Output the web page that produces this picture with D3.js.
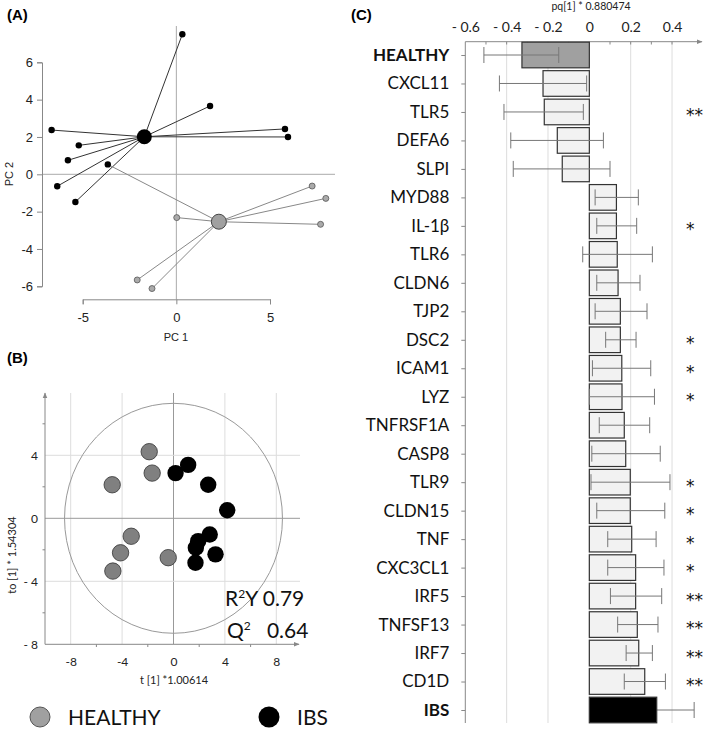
<!DOCTYPE html>
<html><head><meta charset="utf-8">
<script src="https://cdn.jsdelivr.net/npm/d3@7"></script>
<style>body{margin:0;background:#fff}svg{display:block}</style>
</head><body>
<script>
// ---------- DATA ----------
// Panel A (PCA): samples & centroids
const pcaIBS = [[0.32,7.5],[1.80,3.66],[-6.66,2.37],[5.80,2.43],[5.96,2.0],[-5.21,1.55],[-5.79,0.75],[-6.36,-0.64],[-5.39,-1.48]];
const pcaHealthy = [[7.25,-0.63],[7.98,-1.29],[7.70,-2.68],[0.02,-2.32],[-2.09,-5.66],[-1.30,-6.12]];
const pcaMixed = [[-3.66,0.53]]; // black sample linked to HEALTHY centroid
const centroidIBS = [-1.71,2.01];
const centroidHealthy = [2.27,-2.54];
const pcaXTicks = [-5,0,5];
const pcaYTicks = [-6,-4,-2,0,2,4,6];
// Panel B (PLS-DA scores)
const scoresHealthy = [[-1.89,4.23],[-1.66,2.87],[-4.77,2.13],[-3.29,-1.14],[-4.12,-2.19],[-4.72,-3.35],[-0.41,-2.50]];
const scoresIBS = [[0.16,2.87],[1.14,3.39],[2.70,2.13],[4.18,0.51],[2.82,-1.03],[1.92,-1.45],[1.74,-1.87],[3.27,-2.29],[1.71,-2.82]];
const plsXTicks = [-8,-4,0,4,8];
const plsYTicks = [-8,-4,0,4];
const ellipseRadii = [8.48,7.3];
// Panel C (loadings)
const genes = ["HEALTHY","CXCL11","TLR5","DEFA6","SLPI","MYD88","IL-1β","TLR6","CLDN6","TJP2","DSC2","ICAM1","LYZ","TNFRSF1A","CASP8","TLR9","CLDN15","TNF","CXC3CL1","IRF5","TNFSF13","IRF7","CD1D","IBS"];
const loadings = [-0.326,-0.224,-0.218,-0.155,-0.131,0.131,0.131,0.135,0.139,0.150,0.150,0.157,0.158,0.169,0.176,0.198,0.198,0.205,0.224,0.224,0.232,0.239,0.268,0.326];
const errLow  = [-0.51,-0.435,-0.413,-0.38,-0.368,0.028,0.036,-0.032,0.036,0.028,0.079,0.015,0.0,0.048,0.012,0.008,0.036,0.089,0.089,0.102,0.137,0.178,0.169,0.146];
const errHigh = [-0.148,-0.013,-0.029,0.068,0.10,0.237,0.229,0.305,0.245,0.279,0.226,0.297,0.315,0.292,0.343,0.39,0.365,0.323,0.361,0.35,0.332,0.305,0.368,0.507];
const stars = ["","","**","","","","*","","","","*","*","*","","","*","*","*","*","**","**","**","**",""];
const loadTicks = [-0.6,-0.4,-0.2,0,0.2,0.4];
const loadTickLabels = ["- 0.6","- 0.4","- 0.2","0","0.2","0.4"];

// ---------- DRAW ----------
const svg = d3.select("body").append("svg").attr("width",709).attr("height",730);
const CAL = "Lato, 'Open Sans', sans-serif";
const ARI = "'Liberation Sans', Arial, sans-serif";

// ===== Panel A =====
svg.append("text").attr("x",7).attr("y",20).text("(A)").attr("font-family",ARI).attr("font-weight","bold").attr("font-size",15);
const ax = d3.scaleLinear().domain([-5,5]).range([82.7,270]);
const ay = d3.scaleLinear().domain([-6,6]).range([286.3,62.3]);
const gA = svg.append("g");
gA.append("line").attr("x1",ax(0)).attr("x2",ax(0)).attr("y1",26).attr("y2",299).attr("stroke","#aaa");
gA.append("line").attr("x1",42).attr("x2",335).attr("y1",ay(0)).attr("y2",ay(0)).attr("stroke","#aaa");
const aLeft = gA.append("g").attr("transform","translate(42,0)").call(d3.axisLeft(ay).tickValues(pcaYTicks).tickSize(5).tickPadding(4));
const aBot = gA.append("g").attr("transform","translate(0,299.3)").call(d3.axisBottom(ax).tickValues(pcaXTicks).tickSize(5).tickPadding(8));
[aLeft,aBot].forEach(g=>{g.select(".domain").attr("stroke","#888");g.selectAll(".tick line").attr("stroke","#888");
  g.selectAll(".tick text").attr("font-family",ARI).attr("font-size",13).attr("fill","#222");});
aLeft.selectAll(".tick text").text(d=>d<0?"-"+Math.abs(d):d);
aBot.selectAll(".tick text").text(d=>d<0?"-"+Math.abs(d):d);
gA.append("text").attr("x",176).attr("y",341).attr("text-anchor","middle").text("PC 1").attr("font-family",ARI).attr("font-size",11).attr("fill","#222");
gA.append("text").attr("transform","translate(13,174) rotate(-90)").attr("text-anchor","middle").text("PC 2").attr("font-family",ARI).attr("font-size",11).attr("fill","#222");
pcaIBS.forEach(p=>gA.append("line").attr("x1",ax(p[0])).attr("y1",ay(p[1])).attr("x2",ax(centroidIBS[0])).attr("y2",ay(centroidIBS[1])).attr("stroke","#333"));
pcaHealthy.concat(pcaMixed).forEach(p=>gA.append("line").attr("x1",ax(p[0])).attr("y1",ay(p[1])).attr("x2",ax(centroidHealthy[0])).attr("y2",ay(centroidHealthy[1])).attr("stroke","#888"));
pcaIBS.concat(pcaMixed).forEach(p=>gA.append("circle").attr("cx",ax(p[0])).attr("cy",ay(p[1])).attr("r",3.2).attr("fill","#000"));
pcaHealthy.forEach(p=>gA.append("circle").attr("cx",ax(p[0])).attr("cy",ay(p[1])).attr("r",3).attr("fill","#aaa").attr("stroke","#555").attr("stroke-width",0.8));
gA.append("circle").attr("cx",ax(centroidIBS[0])).attr("cy",ay(centroidIBS[1])).attr("r",7.5).attr("fill","#000");
gA.append("circle").attr("cx",ax(centroidHealthy[0])).attr("cy",ay(centroidHealthy[1])).attr("r",7.5).attr("fill","#a0a0a0").attr("stroke","#444").attr("stroke-width",1);

// ===== Panel B =====
svg.append("text").attr("x",7).attr("y",363).text("(B)").attr("font-family",ARI).attr("font-weight","bold").attr("font-size",15);
const bx = d3.scaleLinear().domain([-8,8]).range([70.7,276.3]);
const by = d3.scaleLinear().domain([-8,4]).range([644.3,455.3]);
const gB = svg.append("g");
plsXTicks.forEach(t=>gB.append("line").attr("x1",bx(t)).attr("x2",bx(t)).attr("y1",393).attr("y2",644).attr("stroke",t===0?"#999":"#ddd"));
plsYTicks.filter(t=>t>-8).forEach(t=>gB.append("line").attr("x1",45).attr("x2",300).attr("y1",by(t)).attr("y2",by(t)).attr("stroke",t===0?"#999":"#ddd"));
gB.append("ellipse").attr("cx",bx(0)).attr("cy",by(0)).attr("rx",bx(ellipseRadii[0])-bx(0)).attr("ry",by(0)-by(ellipseRadii[1])).attr("fill","none").attr("stroke","#999");
const bLeft = gB.append("g").attr("transform","translate(45,0)").call(d3.axisLeft(by).tickValues(plsYTicks).tickSize(0).tickPadding(7));
const bBot = gB.append("g").attr("transform","translate(0,644.3)").call(d3.axisBottom(bx).tickValues(plsXTicks).tickSize(0).tickPadding(13));
[bLeft,bBot].forEach(g=>{g.select(".domain").remove();
  g.selectAll(".tick text").attr("font-family",CAL).attr("font-size",12).attr("fill","#222");});
bLeft.selectAll(".tick text").text(d=>d<0?"- "+Math.abs(d):d);
bBot.selectAll(".tick text").text(d=>d<0?"-"+Math.abs(d):d);
svg.append("defs").append("marker").attr("id","arr").attr("viewBox","0 0 10 10").attr("refX",9).attr("refY",5)
  .attr("markerWidth",6).attr("markerHeight",6).attr("orient","auto").append("path").attr("d","M0,1L10,5L0,9Z").attr("fill","#888");
gB.append("line").attr("x1",45).attr("x2",45).attr("y1",644.3).attr("y2",393).attr("stroke","#888").attr("marker-end","url(#arr)");
gB.append("line").attr("x1",45).attr("x2",299).attr("y1",644.3).attr("y2",644.3).attr("stroke","#888").attr("marker-end","url(#arr)");
[-6,-2,2,6].forEach(t=>gB.append("line").attr("x1",bx(t)).attr("x2",bx(t)).attr("y1",644.3).attr("y2",647).attr("stroke","#888"));
[-6,-2,2,6].forEach(t=>gB.append("line").attr("x1",42.5).attr("x2",45).attr("y1",by(t)).attr("y2",by(t)).attr("stroke","#888"));
gB.append("text").attr("x",174).attr("y",684).attr("text-anchor","middle").text("t [1] *1.00614").attr("font-family",CAL).attr("font-size",11).attr("fill","#222");
gB.append("text").attr("transform","translate(16,555) rotate(-90)").attr("text-anchor","middle").text("to [1] * 1.54304").attr("font-family",CAL).attr("font-size",11).attr("fill","#222");
scoresHealthy.forEach(p=>gB.append("circle").attr("cx",bx(p[0])).attr("cy",by(p[1])).attr("r",8.2).attr("fill","#808080").attr("stroke","#333").attr("stroke-width",0.8));
scoresIBS.forEach(p=>gB.append("circle").attr("cx",bx(p[0])).attr("cy",by(p[1])).attr("r",8.2).attr("fill","#000"));
const r2 = gB.append("text").attr("x",225).attr("y",606).attr("font-family",CAL).attr("font-size",21).attr("fill","#111");
r2.append("tspan").text("R");
r2.append("tspan").text("2").attr("font-size",12).attr("dy",-8);
r2.append("tspan").text("Y 0.79").attr("dy",8);
const q2 = gB.append("text").attr("x",227).attr("y",638).attr("font-family",CAL).attr("font-size",21).attr("fill","#111");
q2.append("tspan").text("Q");
q2.append("tspan").text("2").attr("font-size",12).attr("dy",-8);
q2.append("tspan").text("   0.64").attr("dy",8).style("white-space","pre");

// legend
svg.append("circle").attr("cx",40).attr("cy",717).attr("r",10).attr("fill","#a0a0a0").attr("stroke","#555");
svg.append("text").attr("x",68).attr("y",725).text("HEALTHY").attr("font-family",CAL).attr("font-size",21).attr("fill","#111");
svg.append("circle").attr("cx",269).attr("cy",717).attr("r",10.5).attr("fill","#000");
svg.append("text").attr("x",297).attr("y",725).text("IBS").attr("font-family",CAL).attr("font-size",21).attr("fill","#111");

// ===== Panel C =====
svg.append("text").attr("x",351).attr("y",20).text("(C)").attr("font-family",ARI).attr("font-weight","bold").attr("font-size",15);
const cx = d3.scaleLinear().domain([-0.6,0.5]).range([465.3,692.7]);
const cy = d3.scalePoint().domain(genes).range([55,710]);
const bh = cy.step()*0.9;
const gC = svg.append("g");
loadTicks.filter(t=>t!==-0.6).forEach(t=>gC.append("line").attr("x1",cx(t)).attr("x2",cx(t)).attr("y1",42).attr("y2",723).attr("stroke","#ddd"));
const cTop = gC.append("g").attr("transform","translate(0,41.7)").call(d3.axisTop(cx).tickValues(loadTicks).tickSize(0).tickPadding(10));
cTop.select(".domain").remove();
cTop.selectAll(".tick text").text((d,i)=>loadTickLabels[i]).attr("font-family",CAL).attr("font-size",14).attr("fill","#222");
gC.append("line").attr("x1",465.3).attr("x2",702).attr("y1",41.7).attr("y2",41.7).attr("stroke","#888").attr("marker-end","url(#arr)");
d3.range(-5,5).map(i=>i/10).forEach(t=>gC.append("line").attr("x1",cx(t)).attr("x2",cx(t)).attr("y1",41.7).attr("y2",44.5).attr("stroke","#888"));
gC.append("text").attr("x",591).attr("y",10).attr("text-anchor","middle").text("pq[1] * 0.880474").attr("font-family",CAL).attr("font-size",10.5).attr("fill","#222");
const cLeft = gC.append("g").attr("transform","translate(465.3,0)").call(d3.axisLeft(cy).tickSize(4).tickPadding(12));
cLeft.select(".domain").attr("d","M0,41.7V723").attr("stroke","#888");
cLeft.selectAll(".tick line").attr("stroke","#888");
cLeft.selectAll(".tick text").attr("font-family",CAL).attr("font-size",17).attr("fill","#111")
  .attr("font-weight",d=>(d==="HEALTHY"||d==="IBS")?"bold":"normal");
const barRects = [];
genes.forEach((g,i)=>{
  const v = loadings[i];
  const fill = g==="HEALTHY"?"#a0a0a0":(g==="IBS"?"#000":"#f2f2f2");
  const r = gC.append("rect").attr("x",Math.min(cx(0),cx(v))).attr("width",Math.abs(cx(v)-cx(0))).attr("y",cy(g)-bh/2).attr("height",bh)
    .attr("fill",fill).attr("stroke","#333").attr("stroke-width",1.2);
  if(g==="IBS") barRects.push(r);
});
genes.forEach((g,i)=>{
  const y = cy(g);
  gC.append("line").attr("x1",cx(errLow[i])).attr("x2",cx(errHigh[i])).attr("y1",y).attr("y2",y).attr("stroke","#777");
  [errLow[i],errHigh[i]].forEach(e=>gC.append("line").attr("x1",cx(e)).attr("x2",cx(e)).attr("y1",y-8).attr("y2",y+8).attr("stroke","#777"));
  if(stars[i]) gC.append("text").attr("x",686).attr("y",y+9.5).text(stars[i]).attr("font-family","'DejaVu Sans', sans-serif").attr("font-size",17).attr("fill","#111");
});
barRects.forEach(r=>r.raise());
</script>
</body></html>
